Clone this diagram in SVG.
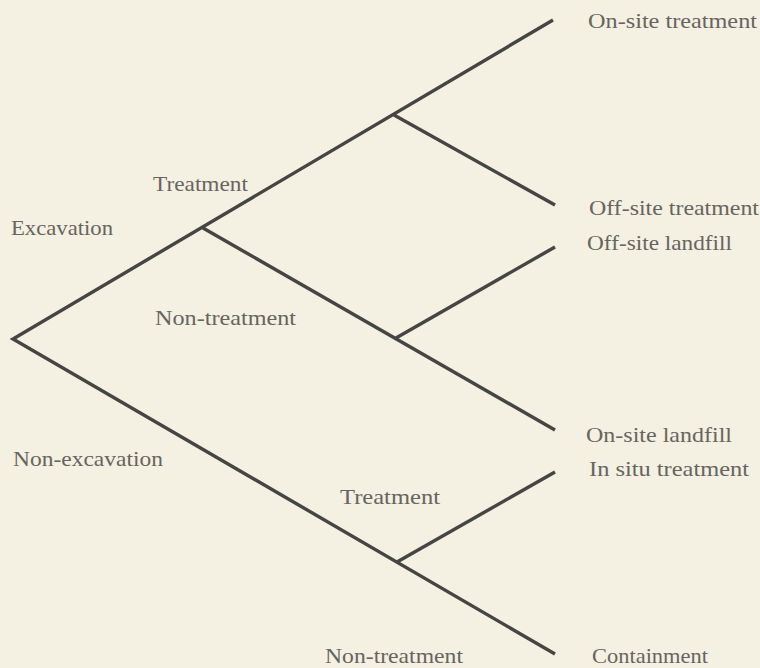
<svg xmlns="http://www.w3.org/2000/svg" width="760" height="668" viewBox="0 0 760 668">
<style>
.bg{fill:#f4f0e2}
.edge{stroke:#454543;stroke-width:3.4;stroke-linecap:butt;stroke-linejoin:miter;stroke-miterlimit:10;fill:none}
.lbl{font-family:"Liberation Serif","Times New Roman",serif;font-size:22px;fill:#66655f}
</style>
<rect class="bg" x="0" y="0" width="760" height="668"/>
<g id="connectors">
<polyline class="edge" points="553,20 13,339 555,654"/>
<line class="edge" x1="203" y1="228" x2="555" y2="430"/>
<line class="edge" x1="394" y1="115" x2="555" y2="205"/>
<line class="edge" x1="396" y1="338" x2="555" y2="247"/>
<line class="edge" x1="397" y1="562" x2="555" y2="472"/>
</g>
<g id="edge-label-excavation"><text class="lbl" x="11" y="235" textLength="102" lengthAdjust="spacingAndGlyphs">Excavation</text></g>
<g id="edge-label-non-excavation"><text class="lbl" x="13" y="466" textLength="150" lengthAdjust="spacingAndGlyphs">Non-excavation</text></g>
<g id="edge-label-treatment-1"><text class="lbl" x="153" y="191" textLength="95" lengthAdjust="spacingAndGlyphs">Treatment</text></g>
<g id="edge-label-non-treatment-1"><text class="lbl" x="155" y="325" textLength="141" lengthAdjust="spacingAndGlyphs">Non-treatment</text></g>
<g id="edge-label-treatment-2"><text class="lbl" x="340" y="504" textLength="100" lengthAdjust="spacingAndGlyphs">Treatment</text></g>
<g id="edge-label-non-treatment-2"><text class="lbl" x="325" y="663" textLength="138" lengthAdjust="spacingAndGlyphs">Non-treatment</text></g>
<g id="leaf-onsite-treatment"><text class="lbl" x="588" y="28" textLength="169" lengthAdjust="spacingAndGlyphs">On-site treatment</text></g>
<g id="leaf-offsite-treatment"><text class="lbl" x="589" y="215" textLength="170" lengthAdjust="spacingAndGlyphs">Off-site treatment</text></g>
<g id="leaf-offsite-landfill"><text class="lbl" x="587" y="250" textLength="145" lengthAdjust="spacingAndGlyphs">Off-site landfill</text></g>
<g id="leaf-onsite-landfill"><text class="lbl" x="586" y="442" textLength="146" lengthAdjust="spacingAndGlyphs">On-site landfill</text></g>
<g id="leaf-insitu-treatment"><text class="lbl" x="589" y="476" textLength="160" lengthAdjust="spacingAndGlyphs">In situ treatment</text></g>
<g id="leaf-containment"><text class="lbl" x="592" y="663" textLength="116" lengthAdjust="spacingAndGlyphs">Containment</text></g>
</svg>
